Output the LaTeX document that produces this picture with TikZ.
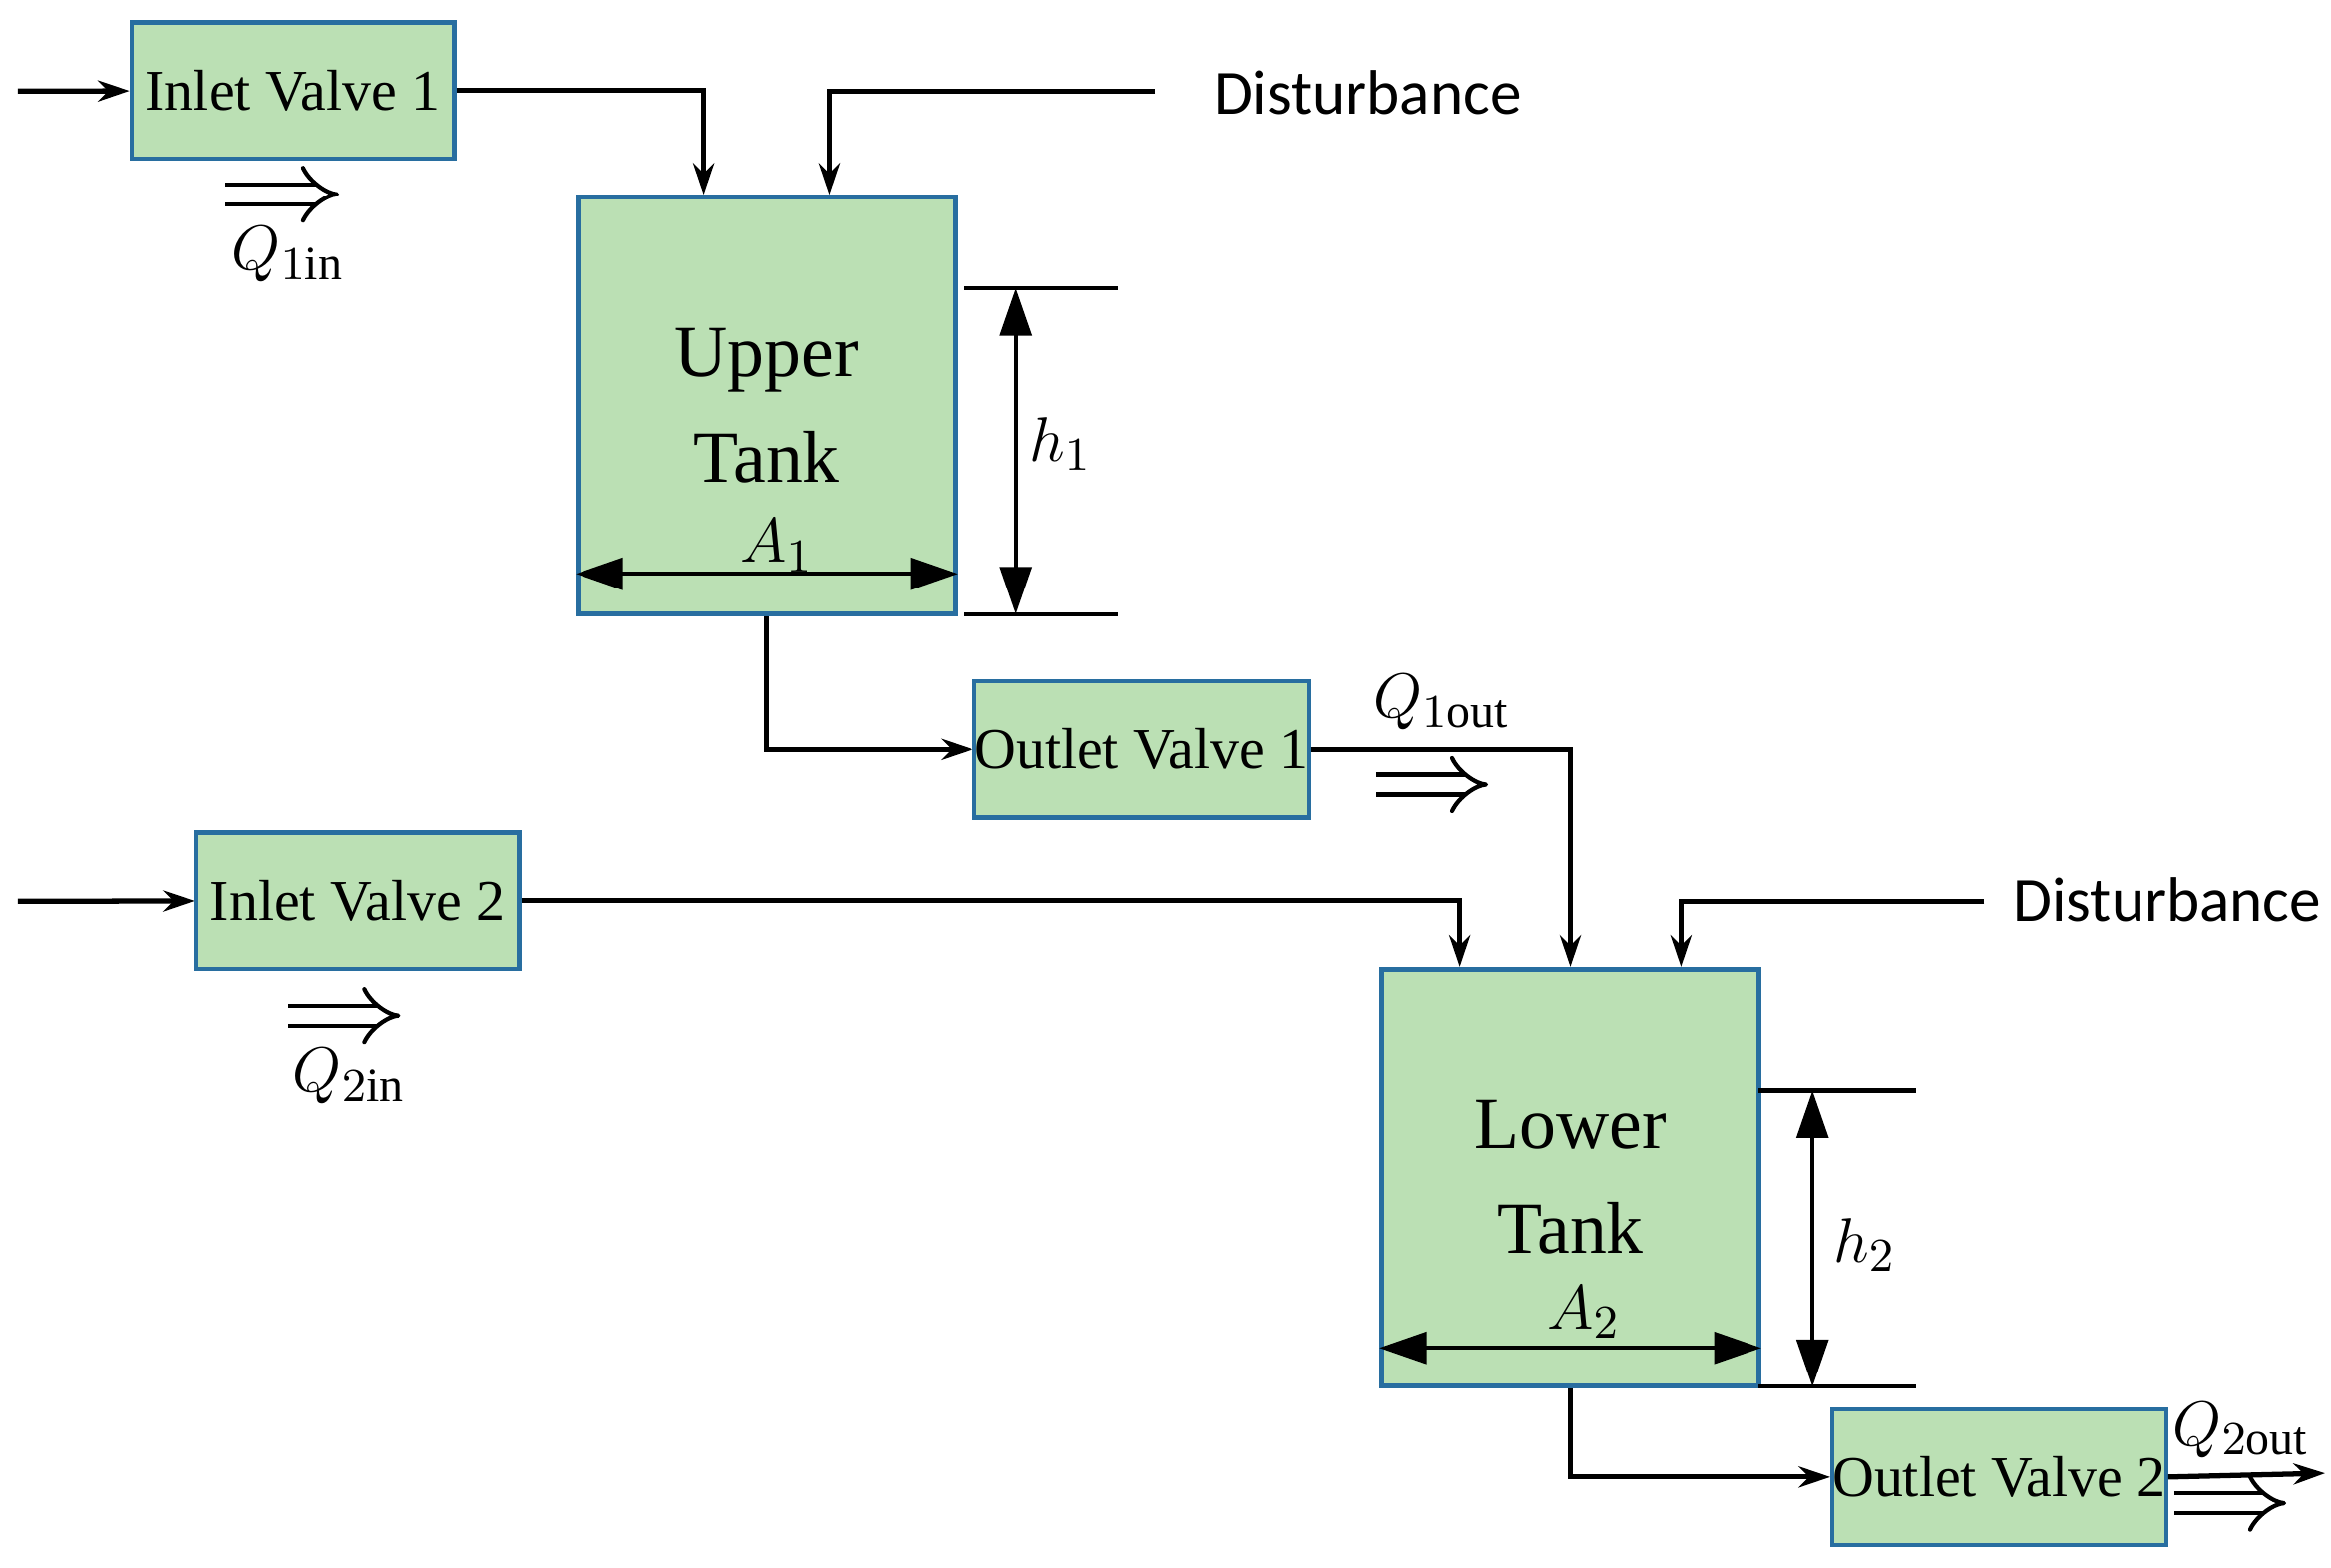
\documentclass[tikz,border=0pt]{standalone}
\usepackage{fontspec}
\setmainfont{Liberation Serif}
\newfontfamily\dist{Carlito}
\usetikzlibrary{arrows.meta,positioning}
\definecolor{boxfill}{RGB}{187,224,180}
\definecolor{boxdraw}{RGB}{40,110,160}
\tikzset{
	valve/.style={draw=boxdraw, fill=boxfill, line width=0.8pt, minimum width=2.16cm, minimum height=0.91cm, inner sep=0pt, font=\fontsize{11}{13}\selectfont},
	tank/.style={draw=boxdraw, fill=boxfill, line width=1pt, minimum width=2.52cm, minimum height=2.79cm, inner sep=0pt, align=center, font=\fontsize{14}{20}\selectfont},
	pipe/.style={line width=1pt, -{Stealth[length=6pt,width=4pt]}},
	flow/.style={double, double distance=3pt, line width=0.8pt, -{Implies}},
	dim/.style={line width=0.8pt, {Triangle[length=9pt,width=6pt]}-{Triangle[length=9pt,width=6pt]}},
	lbl/.style={font=\fontsize{13}{15}\selectfont},
	dist/.style={font=\dist\fontsize{12}{14}\selectfont}
}
\begin{document}
\begin{tikzpicture}[x=1cm, y=-1cm]
	\useasboundingbox (0,0) rectangle (15.6,10.49);

	% valves and tanks
	\node[valve] (iv1) at (1.96,0.605) {Inlet Valve 1};
	\node[valve] (iv2) at (2.395,6.025) {Inlet Valve 2};
	\node[valve] (ov1) at (7.64,5.015) {Outlet Valve 1};
	\node[valve] (ov2) at (13.38,9.885) {Outlet Valve 2};
	\node[tank] (ut) at (5.13,2.715) {Upper\\Tank};
	\node[tank] (lt) at (10.51,7.88) {Lower\\Tank};

	\node[dist, anchor=west] (d1) at (8.0,0.62) {Disturbance};
	\node[dist, anchor=west] (d2) at (13.35,6.02) {Disturbance};

	% free ends
	\coordinate (s1) at (0.12,0.61);
	\coordinate (s2) at (0.12,6.03);
	\coordinate (e2) at (15.56,9.86);
	\coordinate (d1e) at (7.73,0.61);
	\coordinate (d2e) at (13.28,6.03);

	% pipes
	\draw[pipe] (s1) -- (iv1);
	\draw[pipe] (s2) -- (iv2);
	\draw[pipe] (iv1.east) -| ([xshift=-0.42cm]ut.north);
	\draw[pipe] (d1e) -| ([xshift=0.42cm]ut.north);
	\draw[pipe] (ut.south) |- (ov1.west);
	\draw[pipe] (ov1.east) -| (lt.north);
	\draw[pipe] (iv2.east) -| ([xshift=-0.74cm]lt.north);
	\draw[pipe] (d2e) -| ([xshift=0.74cm]lt.north);
	\draw[pipe] (lt.south) |- (ov2.west);
	\draw[pipe] (ov2.east) -- (e2);

	% flow arrows
	\draw[flow] (1.51,1.3) -- (2.27,1.3);
	\node[lbl] (q1in) at (1.93,1.7) {$Q_{1\mathrm{in}}$};
	\draw[flow] (1.93,6.8) -- (2.68,6.8);
	\node[lbl] (q2in) at (2.34,7.2) {$Q_{2\mathrm{in}}$};
	\draw[flow] (9.21,5.25) -- (9.96,5.25);
	\node[lbl] (q1out) at (9.65,4.7) {$Q_{1\mathrm{out}}$};
	\draw[flow] (14.55,10.06) -- (15.3,10.06);
	\node[lbl] (q2out) at (15.0,9.57) {$Q_{2\mathrm{out}}$};

	% dimensions upper tank
	\draw[line width=0.8pt] (6.45,1.93) -- (7.48,1.93) (6.45,4.11) -- (7.48,4.11);
	\draw[dim] (6.8,1.93) -- (6.8,4.11);
	\node[lbl] (h1) at (7.1,2.97) {$h_1$};
	\draw[dim] (ut.south west |- 0,3.84) -- (ut.south east |- 0,3.84);
	\node[lbl] (a1) at (5.2,3.65) {$A_1$};

	% dimensions lower tank
	\draw[line width=0.8pt] (11.77,7.3) -- (12.82,7.3) (11.77,9.28) -- (12.82,9.28);
	\draw[dim] (12.13,7.3) -- (12.13,9.28);
	\node[lbl] (h2) at (12.48,8.33) {$h_2$};
	\draw[dim] (lt.south west |- 0,9.02) -- (lt.south east |- 0,9.02);
	\node[lbl] (a2) at (10.6,8.78) {$A_2$};
\end{tikzpicture}
\end{document}
